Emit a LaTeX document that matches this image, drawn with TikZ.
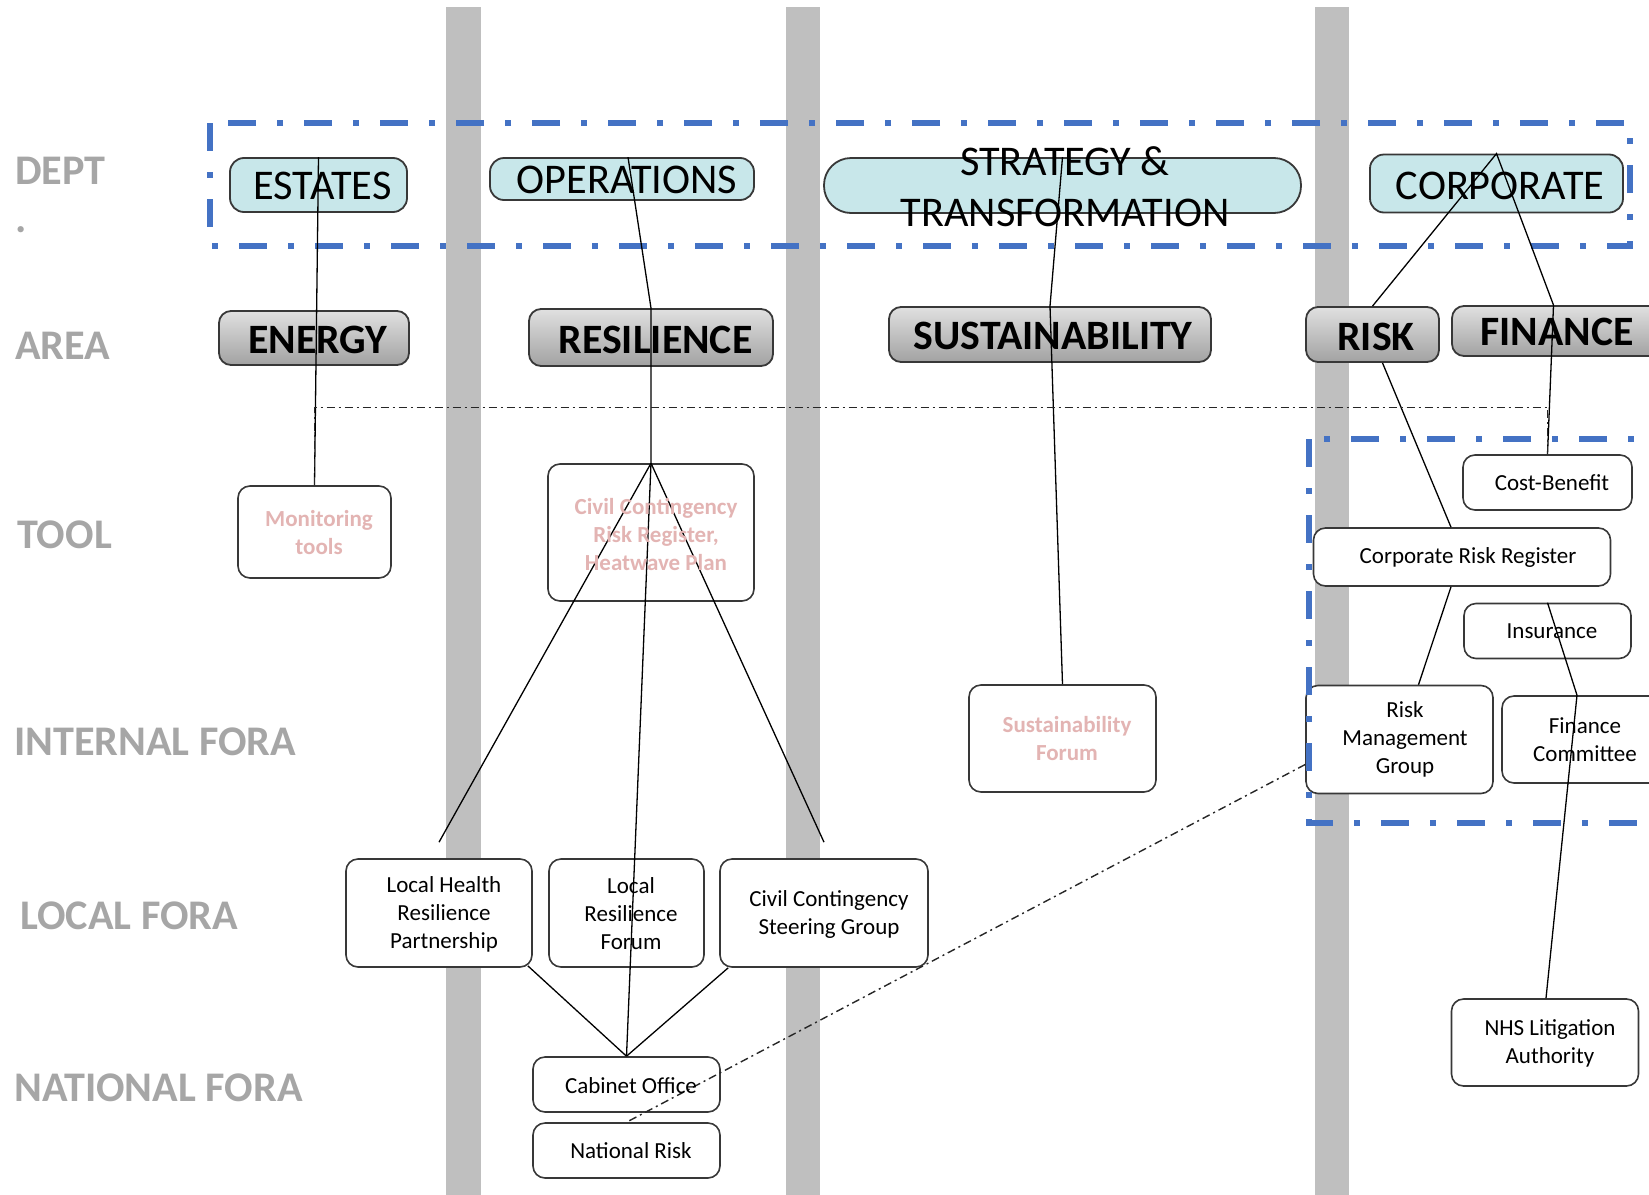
\documentclass[tikz,border=0pt]{standalone}
\usepackage{fontspec}
\setmainfont{Carlito}
\definecolor{bandG}{HTML}{BFBFBF}
\definecolor{blueD}{HTML}{4472C4}
\definecolor{deptFill}{HTML}{C8E7EA}
\definecolor{areaTop}{HTML}{E0E0E0}
\definecolor{areaBot}{HTML}{A2A2A2}
\definecolor{lblG}{HTML}{A6A6A6}
\definecolor{pinkT}{HTML}{E3B4B3}
\definecolor{edgeG}{HTML}{383838}
\tikzset{
  grayband/.style={fill=bandG, draw=none},
  deptbox/.style={draw=edgeG, line width=1.8pt, fill=deptFill, rounded corners=14pt, inner sep=0pt},
  areabox/.style={draw=edgeG, line width=1.8pt, top color=areaTop, bottom color=areaBot, rounded corners=12pt, inner sep=0pt},
  sbox/.style={draw=edgeG, line width=1.6pt, fill=white, rounded corners=12pt, inner sep=0pt},
  depttxt/.style={font=\fontsize{42.3}{52}\selectfont, inner sep=0pt},
  areatxt/.style={font=\bfseries\fontsize{41.8}{50}\selectfont, inner sep=0pt},
  stxt/.style={font=\fontsize{23}{28}\selectfont, align=center, inner sep=0pt},
  ptxt/.style={font=\bfseries\fontsize{23}{28}\selectfont, align=center, inner sep=0pt, text=pinkT},
  rowlbl/.style={font=\bfseries\fontsize{42.2}{50}\selectfont, text=lblG, anchor=base west, inner sep=0pt},
  conn/.style={draw=black, line width=1.3pt},
  ddot/.style={draw=black!85, line width=1.4pt, dash pattern=on 8pt off 4pt on 2pt off 4pt},
  bluebox/.style={draw=blueD, line width=6pt, dash pattern=on 28pt off 21pt on 6pt off 21pt},
}
\begin{document}
\begin{tikzpicture}[x=1pt,y=-1pt]
\useasboundingbox (0,0) rectangle (1649,1194);
\clip (0,0) rectangle (1649,1194);
% vertical bands
\fill[grayband] (446,7) rectangle (481,1200);
\fill[grayband] (786,7) rectangle (820,1200);
\fill[grayband] (1315,7) rectangle (1349,1200);

% row labels
\node[rowlbl] (lDept) at (15,184) {DEPT};
\node[rowlbl] (lDot) at (15,232) {.};
\node[rowlbl] (lArea) at (15,359) {AREA};
\node[rowlbl] (lTool) at (17,548) {TOOL};
\node[rowlbl] (lInt) at (14,755) {INTERNAL FORA};
\node[rowlbl] (lLoc) at (20,929) {LOCAL FORA};
\node[rowlbl] (lNat) at (14,1101) {NATIONAL FORA};

% department boxes
\node[deptbox, minimum width=177pt, minimum height=54pt] (estates) at (318.5,185) {};
\node[deptbox, minimum width=264pt, minimum height=42pt] (ops) at (622,179) {};
\node[deptbox, rounded corners=27pt, minimum width=477pt, minimum height=55pt] (strat) at (1062.5,185.5) {};
\node[deptbox, minimum width=253pt, minimum height=58pt] (corp) at (1496.5,183.5) {};

% area boxes
\node[areabox, minimum width=190pt, minimum height=54pt] (energy) at (314,338) {};
\node[areabox, minimum width=244pt, minimum height=57pt] (res) at (651,337.5) {};
\node[areabox, minimum width=322pt, minimum height=55pt] (sust) at (1050,334.5) {};
\node[areabox, minimum width=133pt, minimum height=55pt] (risk) at (1372.5,334.5) {};
\node[areabox, minimum width=211pt, minimum height=50pt] (fin) at (1557.5,331) {};

% tool boxes
\node[sbox, minimum width=153pt, minimum height=92pt] (mon) at (314.5,532) {};
\node[sbox, minimum width=206pt, minimum height=137pt] (ccrr) at (651,532.5) {};
\node[sbox, minimum width=169pt, minimum height=55pt] (cost) at (1547.5,482.5) {};
\node[sbox, minimum width=297pt, minimum height=58pt] (crr) at (1462,557) {};
\node[sbox, minimum width=167pt, minimum height=55pt] (ins) at (1547.5,631) {};

% internal fora
\node[sbox, minimum width=187pt, minimum height=107pt] (sustf) at (1062.5,738.5) {};
\node[sbox, minimum width=187pt, minimum height=108pt] (rmg) at (1399.5,739.5) {};
\node[sbox, minimum width=162pt, minimum height=87pt] (fc) at (1583,739.5) {};

% local fora
\node[sbox, minimum width=186pt, minimum height=108pt] (lhrp) at (439,913) {};
\node[sbox, minimum width=155pt, minimum height=108pt] (lrf) at (626.5,913) {};
\node[sbox, minimum width=208pt, minimum height=108pt] (ccsg) at (824,913) {};

% national fora
\node[sbox, minimum width=187pt, minimum height=55pt] (cab) at (626.5,1084.5) {};
\node[sbox, minimum width=187pt, minimum height=55pt] (natr) at (626.5,1150.5) {};
\node[sbox, minimum width=187pt, minimum height=87pt] (nhs) at (1545,1042.5) {};

% blue dash-dot frames
\draw[bluebox] (210,123) rectangle (1630,246);
\draw[bluebox] (1309,439) rectangle (1720,823);

% connectors
\draw[conn] (estates.north) -- (mon.north);
\draw[conn] ([xshift=6pt]ops.north) -- (res.north) -- (ccrr.north);
\draw[conn] (ccrr.north) -- ([yshift=16pt]lhrp.north);
\draw[conn] (ccrr.north) -- (cab.north);
\draw[conn] (ccrr.north) -- ([yshift=16pt]ccsg.north);
\draw[conn] ([shift={(-5pt,2pt)}]lhrp.south east) -- (cab.north);
\draw[conn] ([xshift=9pt]ccsg.south west) -- (cab.north);
\draw[conn] (strat.north) -- (sust.north) -- (sustf.north);
\draw[conn] (risk.north) -- (corp.north) -- ([xshift=-4pt]fin.north) -- (cost.north);
\draw[conn] ([xshift=10pt]risk.south) -- ([xshift=-11pt]crr.north);
\draw[conn] ([xshift=-11pt]crr.south) -- ([xshift=19pt]rmg.north);
\draw[conn] (ins.north) -- ([xshift=-6pt]fc.north) -- ([xshift=1pt]nhs.north);
\draw[ddot] (mon.north) -- ++(0,-78) -| (cost.north);
\draw[ddot] ([yshift=-25pt]rmg.west) -- (natr.north);

% texts
\node[depttxt] (estatesT) at (322.5,186) {ESTATES};
\node[depttxt] (opsT) at (627,180) {OPERATIONS};
\node[depttxt] (stratT1) at (1065,161) {STRATEGY \&};
\node[depttxt] (stratT2) at (1065,213) {TRANSFORMATION};
\node[depttxt] (corpT) at (1500,185.5) {CORPORATE};

\node[areatxt] (energyT) at (318,340) {ENERGY};
\node[areatxt] (resT) at (655.5,340) {RESILIENCE};
\node[areatxt] (sustT) at (1053,335.5) {SUSTAINABILITY};
\node[areatxt] (riskT) at (1376,336.5) {RISK};
\node[areatxt] (finT) at (1557,332) {FINANCE};

\node[ptxt] (monT) at (319,533) {Monitoring\\tools};
\node[ptxt] (ccrrT) at (656,534) {Civil Contingency\\Risk Register,\\Heatwave Plan};
\node[stxt] (costT) at (1552,483) {Cost-Benefit};
\node[stxt] (crrT) at (1468,557) {Corporate Risk Register};
\node[stxt] (insT) at (1552,631) {Insurance};
\node[ptxt] (sustfT) at (1067,739) {Sustainability\\Forum};
\node[stxt] (rmgT) at (1405,739) {Risk\\Management\\Group};
\node[stxt] (fcT) at (1585,740) {Finance\\Committee};
\node[stxt] (lhrpT) at (444,914) {Local Health\\Resilience\\Partnership};
\node[stxt] (lrfT) at (631,914) {Local\\Resilience\\Forum};
\node[stxt] (ccsgT) at (829,914) {Civil Contingency\\Steering Group};
\node[stxt] (cabT) at (631,1086) {Cabinet Office};
\node[stxt] (natrT) at (631,1151) {National Risk};
\node[stxt] (nhsT) at (1550,1043) {NHS Litigation\\Authority};
\end{tikzpicture}
\end{document}
